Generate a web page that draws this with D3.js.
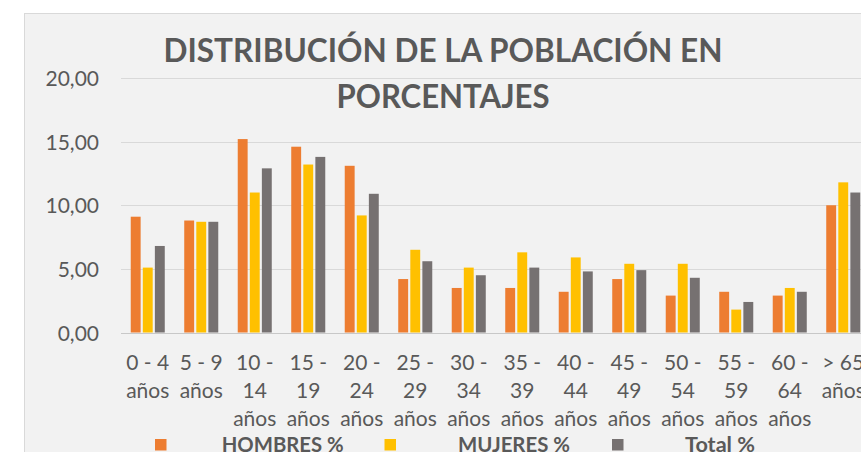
<!DOCTYPE html>
<html>
<head>
<meta charset="utf-8">
<script src="https://cdn.jsdelivr.net/npm/d3@7/dist/d3.min.js"></script>
<style>
  html, body { margin: 0; padding: 0; background: #fff; }
  svg { display: block; }
  text { font-family: Lato, "Open Sans", sans-serif; }
</style>
</head>
<body>
<svg id="chart" width="861" height="452"></svg>
<script>
// ---- data ----
const categories = ["0 - 4 años", "5 - 9 años", "10 - 14 años", "15 - 19 años", "20 - 24 años",
  "25 - 29 años", "30 - 34 años", "35 - 39 años", "40 - 44 años", "45 - 49 años",
  "50 - 54 años", "55 - 59 años", "60 - 64 años", "> 65 años"];
const seriesNames = ["HOMBRES %", "MUJERES %", "Total %"];
const hombres = [9.1, 8.8, 15.2, 14.6, 13.1, 4.2, 3.5, 3.5, 3.2, 4.2, 2.9, 3.2, 2.9, 10.0];
const mujeres = [5.1, 8.7, 11.0, 13.2, 9.2, 6.5, 5.1, 6.3, 5.9, 5.4, 5.4, 1.8, 3.5, 11.8];
const total   = [6.8, 8.7, 12.9, 13.8, 10.9, 5.6, 4.5, 5.1, 4.8, 4.9, 4.3, 2.4, 3.2, 11.0];
const yTicks = [0, 5, 10, 15, 20];
const titleLines = ["DISTRIBUCIÓN DE LA POBLACIÓN EN", "PORCENTAJES"];

const colors = ["#ED7D31", "#FFC000", "#767171"];
const seriesValues = [hombres, mujeres, total];
const rows = categories.map((c, i) => ({cat: c, vals: seriesNames.map((s, j) => ({s, v: seriesValues[j][i]}))}));

const svg = d3.select("#chart");

// chart area
svg.append("rect").attr("x", 0).attr("y", 0).attr("width", 861).attr("height", 452).attr("fill", "#fff");
svg.append("rect").attr("x", 24.5).attr("y", 13.5).attr("width", 900).attr("height", 500)
  .attr("fill", "#f2f2f2").attr("stroke", "#d9d9d9").attr("stroke-width", 1);

// scales
const x0 = d3.scaleBand().domain(categories).range([121, 870]).paddingInner(0.364).paddingOuter(0.182);
const x1 = d3.scaleBand().domain(seriesNames).range([0, x0.bandwidth()]).paddingInner(0.18).paddingOuter(0);
const y = d3.scaleLinear().domain([0, 20]).range([332.5, 78]);
const color = d3.scaleOrdinal().domain(seriesNames).range(colors);

// gridlines
svg.append("g").selectAll("line").data(yTicks.filter(d => d > 0)).join("line")
  .attr("x1", 121).attr("x2", 861)
  .attr("y1", d => Math.round(y(d)) + 0.5).attr("y2", d => Math.round(y(d)) + 0.5)
  .attr("stroke", "#d9d9d9").attr("stroke-width", 1);

// bars
const groups = svg.append("g").selectAll("g").data(rows).join("g")
  .attr("transform", d => `translate(${x0(d.cat)},0)`);
groups.selectAll("rect").data(d => d.vals).join("rect")
  .attr("x", d => x1(d.s)).attr("width", x1.bandwidth())
  .attr("y", d => y(d.v)).attr("height", d => y(0) - y(d.v))
  .attr("fill", d => color(d.s));

// x axis line
svg.append("line").attr("x1", 121).attr("x2", 861)
  .attr("y1", Math.round(y(0)) + 0.5).attr("y2", Math.round(y(0)) + 0.5)
  .attr("stroke", "#c8c8c8").attr("stroke-width", 1);

// y axis
const yAxis = d3.axisLeft(y).tickValues(yTicks)
  .tickFormat(d => d3.format(".2f")(d).replace(".", ","))
  .tickSize(0).tickPadding(22);
const gy = svg.append("g").attr("transform", "translate(121,0)").call(yAxis);
gy.select(".domain").remove();
gy.selectAll("text").attr("font-family", "Lato, sans-serif").attr("font-size", 21)
  .attr("fill", "#595959").attr("dy", "0.36em");

// x axis
const xAxis = d3.axisBottom(x0).tickSize(0).tickPadding(0);
const gx = svg.append("g").attr("transform", `translate(0,${y(0)})`).call(xAxis);
gx.select(".domain").remove();
gx.selectAll("text").attr("font-family", "Lato, sans-serif").attr("font-size", 21)
  .attr("fill", "#595959").attr("dy", null).attr("y", 37.5)
  .each(function(d) {
    const t = d3.select(this);
    const words = d.split(" ");
    t.text(null);
    const maxW = x0.step() - 1;
    let lines = [];
    let cur = [];
    const probe = t.append("tspan");
    words.forEach(w => {
      const trial = cur.concat([w]).join(" ");
      probe.text(trial);
      if (cur.length && probe.node().getComputedTextLength() > maxW) {
        lines.push(cur.join(" "));
        cur = [w];
      } else cur.push(w);
    });
    if (cur.length) lines.push(cur.join(" "));
    probe.remove();
    lines.forEach((ln, i) => {
      t.append("tspan").attr("x", 0).attr("y", 37.5 + i * 28).text(ln);
    });
  });

// title
const titleY = [62, 108];
const titleW = [559, 213];
svg.append("g").selectAll("text").data(titleLines).join("text")
  .attr("x", 443).attr("y", (d, i) => titleY[i])
  .attr("text-anchor", "middle")
  .attr("font-family", "Lato, sans-serif").attr("font-weight", "bold").attr("font-size", 32)
  .attr("fill", "#595959")
  .attr("textLength", (d, i) => titleW[i]).attr("lengthAdjust", "spacingAndGlyphs")
  .text(d => d);

// legend
const legSq = [155, 384.5, 612];
const legTx = [221.7, 458, 685];
const legW = [122, 112, 70];
const leg = svg.append("g").selectAll("g").data(seriesNames).join("g");
leg.append("rect").attr("x", (d, i) => legSq[i]).attr("y", 439).attr("width", 11.5).attr("height", 11.5)
  .attr("fill", d => color(d));
leg.append("text").attr("x", (d, i) => legTx[i]).attr("y", 452)
  .attr("font-family", "Lato, sans-serif").attr("font-weight", "bold").attr("font-size", 20)
  .attr("fill", "#595959")
  .attr("textLength", (d, i) => legW[i]).attr("lengthAdjust", "spacingAndGlyphs")
  .text(d => d);
</script>
</body>
</html>
